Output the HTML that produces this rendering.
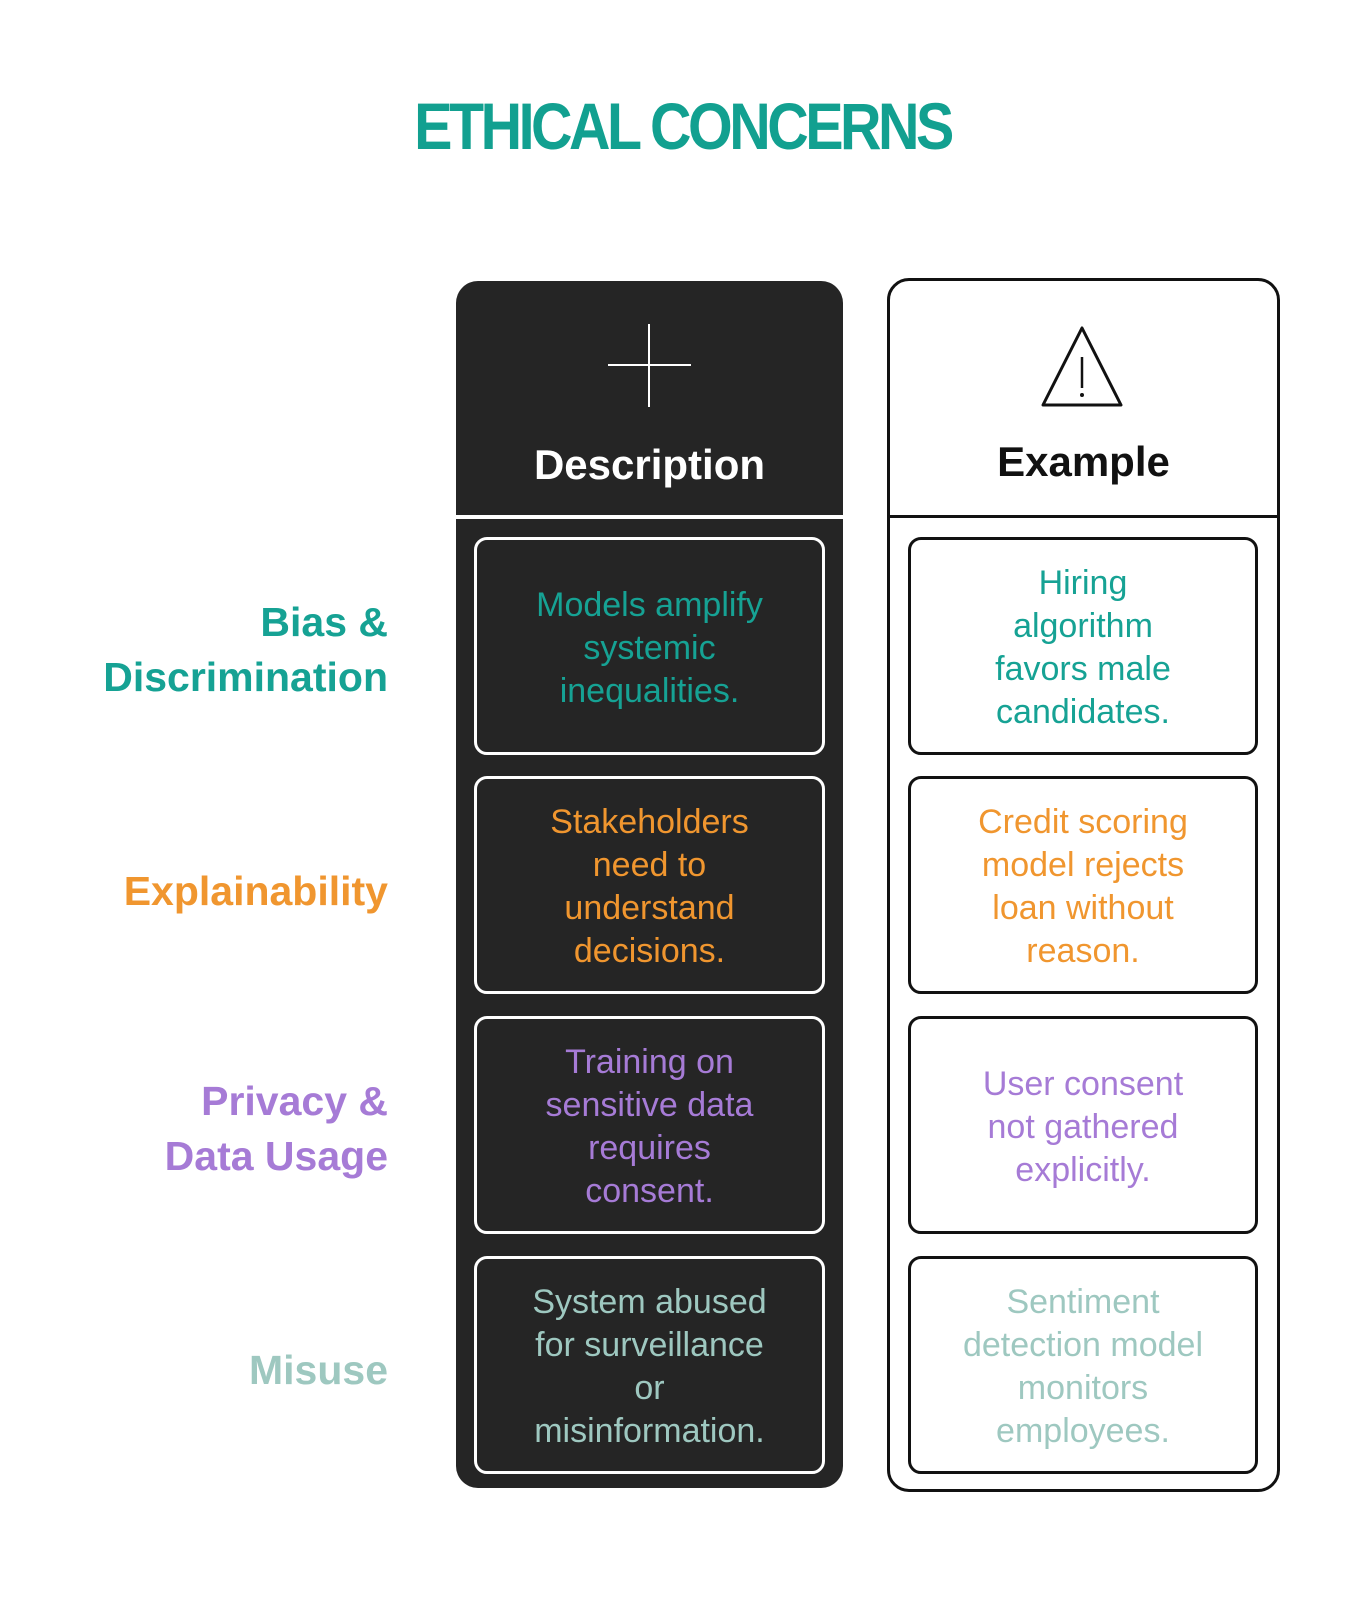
<!DOCTYPE html>
<html><head><meta charset="utf-8"><style>
*{margin:0;padding:0;box-sizing:border-box}
body{width:1365px;height:1600px;background:#fff;position:relative;font-family:"Liberation Sans",sans-serif;overflow:hidden}
.title{position:absolute;left:0;width:1365px;top:88px;text-align:center;font-size:66px;font-weight:bold;color:#12a090;letter-spacing:-4px;transform:scaleX(0.87)}
.col{position:absolute;border-radius:22px}
.dark{left:456px;top:281px;width:387px;height:1207px;background:#252525}
.light{left:887px;top:278px;width:393px;height:1214px;border:3px solid #111;background:#fff}
.hd{position:absolute;width:100%;text-align:center;font-size:42px;font-weight:bold;top:160px}
.box{position:absolute;height:218px;border-radius:13px;border:3px solid #fff;display:flex;align-items:center;justify-content:center;text-align:center;font-size:34px;line-height:43px;padding-top:4px}
.lb{left:474px;width:351px;background:#252525}
.rb{left:908px;width:350px;border-color:#111;background:#fff}
.lab{position:absolute;right:977px;text-align:right;font-size:41px;font-weight:bold;line-height:55px}
.t{color:#16a294}.o{color:#f0962f}.p{color:#a67bd6}.m{color:#9ec8c0}
</style></head><body>
<div class="title">ETHICAL CONCERNS</div>

<div class="col dark">
 <div style="position:absolute;left:152px;top:83px;width:83px;height:2px;background:#fff"></div>
 <div style="position:absolute;left:192px;top:43px;width:2px;height:83px;background:#fff"></div>
 <div class="hd" style="color:#fff">Description</div>
 <div style="position:absolute;left:0;top:234px;width:100%;height:4px;background:#fff"></div>
</div>
<div class="col light">
 <svg style="position:absolute;left:150px;top:44px" width="84" height="84" viewBox="0 0 84 84"><path d="M42 3 L81 80 L3 80 Z" fill="none" stroke="#111" stroke-width="3" stroke-linejoin="round"/><line x1="42" y1="32" x2="42" y2="63" stroke="#111" stroke-width="2.5"/><circle cx="42" cy="70" r="2" fill="#111"/></svg>
 <div class="hd" style="color:#111;top:157px">Example</div>
 <div style="position:absolute;left:0;top:234px;width:100%;height:3px;background:#111"></div>
</div>

<div class="box lb t" style="top:537px">Models amplify<br>systemic<br>inequalities.</div>
<div class="box lb o" style="top:776px">Stakeholders<br>need to<br>understand<br>decisions.</div>
<div class="box lb p" style="top:1016px">Training on<br>sensitive data<br>requires<br>consent.</div>
<div class="box lb m" style="top:1256px">System abused<br>for surveillance<br>or<br>misinformation.</div>

<div class="box rb t" style="top:537px">Hiring<br>algorithm<br>favors male<br>candidates.</div>
<div class="box rb o" style="top:776px">Credit scoring<br>model rejects<br>loan without<br>reason.</div>
<div class="box rb p" style="top:1016px">User consent<br>not gathered<br>explicitly.</div>
<div class="box rb m" style="top:1256px">Sentiment<br>detection model<br>monitors<br>employees.</div>

<div class="lab t" style="top:595px">Bias &amp;<br>Discrimination</div>
<div class="lab o" style="top:864px">Explainability</div>
<div class="lab p" style="top:1074px">Privacy &amp;<br>Data Usage</div>
<div class="lab m" style="top:1343px">Misuse</div>
</body></html>
